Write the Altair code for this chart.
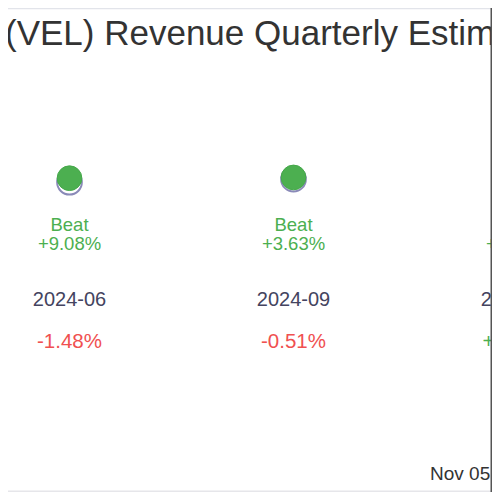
import altair as alt
import pandas as pd

# ---- data ----
quarters = ["2024-06", "2024-09", "2024-12"]
quarter_index = [0, 1, 2]
estimates = [9.45, 10.10, 8.00]
actuals = [10.31, 10.47, 8.19]
results = ["Beat", "Beat", "Beat"]
surprise_labels = ["+9.08%", "+3.63%", "+2.41%"]
change_labels = ["-1.48%", "-0.51%", "+0.87%"]
title_text = "(VEL) Revenue Quarterly Estimates vs Actuals"
footer_text = "Nov 05, 2024"

df = pd.DataFrame({
    "i": quarter_index,
    "quarter": quarters,
    "estimate": estimates,
    "actual": actuals,
    "result": results,
    "surprise": surprise_labels,
    "change": change_labels,
})
df["beat_label"] = df["result"] + "\n" + df["surprise"]
df["change_sign"] = ["neg" if c.startswith("-") else "pos" for c in change_labels]

W, H = 484, 484
x0, step = 61.5, 224.0
xscale = alt.Scale(domain=[-x0 / step, (W - x0) / step], nice=False, zero=False)
yscale = alt.Scale(domain=[-57.1, 46.87], nice=False, zero=False)

base = alt.Chart(df)
x_enc = alt.X("i:Q", scale=xscale, axis=None)

est_pts = base.mark_point(
    shape="circle", filled=True, fill="white", stroke="#8a8ab8", strokeWidth=2, size=610, opacity=1
).encode(x=x_enc, y=alt.Y("estimate:Q", scale=yscale, axis=None))

act_pts = base.mark_point(
    shape="circle", filled=True, fill="#4caf50", stroke="#45a84a", strokeWidth=1, size=610, opacity=1
).encode(x=x_enc, y=alt.Y("actual:Q", scale=yscale, axis=None))

beat_txt = base.mark_text(
    font="Liberation Sans", fontSize=18.5, color="#4caf50", lineBreak="\n", lineHeight=19,
    baseline="middle", align="center"
).encode(x=x_enc, y=alt.value(216.5), text="beat_label:N")

date_txt = base.mark_text(
    font="Liberation Sans", fontSize=20, color="#444460", baseline="middle", align="center"
).encode(x=x_enc, y=alt.value(292), text="quarter:N")

change_txt = base.mark_text(
    font="Liberation Sans", fontSize=20.5, baseline="middle", align="center"
).encode(
    x=x_enc, y=alt.value(334), text="change:N",
    color=alt.Color("change_sign:N", scale=alt.Scale(domain=["neg", "pos"], range=["#f05050", "#4caf50"]), legend=None),
)

one = pd.DataFrame({"t": [title_text], "f": [footer_text]})
title_layer = alt.Chart(one).mark_text(
    font="Liberation Sans", fontSize=35, color="#333333", align="left", baseline="alphabetic"
).encode(x=alt.value(-3), y=alt.value(37), text="t:N")

footer_layer = alt.Chart(one).mark_text(
    font="Liberation Sans", fontSize=19, color="#333333", align="left", baseline="alphabetic"
).encode(x=alt.value(422), y=alt.value(472), text="f:N")

top_rule = alt.Chart(one).mark_rule(color="#e2e4ea", strokeWidth=1.5).encode(
    x=alt.value(0), x2=alt.value(W), y=alt.value(0.5))
bottom_rule = alt.Chart(one).mark_rule(color="#e6e6ea", strokeWidth=1.5).encode(
    x=alt.value(0), x2=alt.value(W), y=alt.value(H - 0.75))
right_rule = alt.Chart(one).mark_rule(color="#555555", strokeWidth=1.5).encode(
    x=alt.value(W - 0.75), y=alt.value(0), y2=alt.value(H))

chart = alt.layer(
    top_rule, bottom_rule, title_layer, footer_layer,
    est_pts, act_pts, beat_txt, date_txt, change_txt, right_rule,
).properties(
    width=W, height=H, autosize=alt.AutoSizeParams(type="none"), padding=0
).configure_view(stroke=None)

chart.save("out.html", embed_options={"renderer": "svg", "actions": False})
